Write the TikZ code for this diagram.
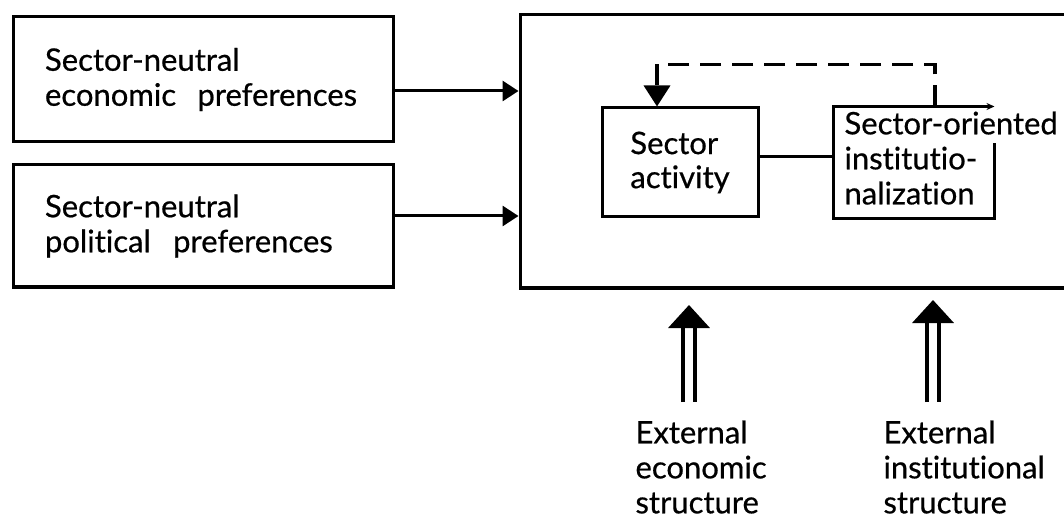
\documentclass[tikz,border=0pt]{standalone}
\usepackage{fontspec}
\setmainfont{Lato}[Ligatures=NoCommon, FakeBold=0.6]
\usetikzlibrary{arrows.meta}

\begin{document}
\begin{tikzpicture}[x=1pt, y=-1pt, line width=3pt,
    font=\fontsize{31}{35}\selectfont,
    box/.style={draw, inner xsep=32pt, inner ysep=0pt, text width=316pt, align=left},
    inbox/.style={minimum width=156pt, minimum height=109pt, inner ysep=0pt,
      align=left, font=\fontsize{31}{34}\selectfont},
    feed/.style={line width=3.5pt, dash pattern=on 21pt off 11pt, -{Triangle[length=21pt,width=26pt]}},
    prefarrow/.style={-{Triangle[length=16pt,width=20pt]}},
    extarrow/.style={line width=4pt, double, double distance=8pt, -{Triangle[length=23pt,width=41pt]}},
    extlabel/.style={anchor=north west, inner sep=0pt, align=left}]

  \useasboundingbox (0,0) rectangle (1064,518);
  \clip (0,0) rectangle (1064,518);

  % --- Sector-neutral preferences ---
  \node[box, minimum height=125pt] (econ) at (203,79.5) {Sector-neutral\\economic\hspace{11pt} preferences};
  \node[box, minimum height=122pt] (pol) at (203,226) {Sector-neutral\\political\hspace{12pt} preferences};

  % --- Sector box (its right side runs off the page) ---
  \node[draw, minimum width=560pt, minimum height=273pt] (sector) at (800,151.5) {};

  % --- Preferences -> sector ---
  \draw[prefarrow] ([yshift=-11.5pt]econ.east) -- ([yshift=-11.5pt]econ.east -| sector.west);
  \draw[prefarrow] ([yshift=10pt]pol.east) -- ([yshift=10pt]pol.east -| sector.west);

  % --- Inner boxes ---
  \node[inbox, draw] (activity) at (680,162.5) {Sector\\activity};
  \node[inbox, minimum width=158pt] (inst) at (914,162.5) {};
  \node[extlabel] (insttext) at (843,110) {Sector-oriented\\institutio-\\nalization};
  % frame left open where the first line runs over it
  \draw[-{Stealth[length=8pt,width=7pt]}] ([yshift=-37pt]inst.north east) -- (inst.south east)
    -- (inst.south west) -- (inst.north west) -- (inst.north east);

  \draw ([yshift=5.5pt]activity.east) -- ([yshift=5.5pt]activity.east -| inst.west);

  % --- Feedback (dashed) ---
  \draw[feed] ([xshift=21pt]inst.north) -- ++(0,-42) -| ([xshift=-23pt]activity.north);

  % --- External structures ---
  \node[extlabel] (ecoext) at (634,419) {External\\economic\\structure};
  \node[extlabel] (instext) at (882,419) {External\\institutional\\structure};
  \coordinate (ecotip) at (689,305);
  \coordinate (insttip) at (933,300);
  \draw[extarrow] ([shift={(55,-17)}]ecoext.north west) -- (ecotip);
  \draw[extarrow] ([shift={(51,-17)}]instext.north west) -- (insttip);

\end{tikzpicture}
\end{document}
